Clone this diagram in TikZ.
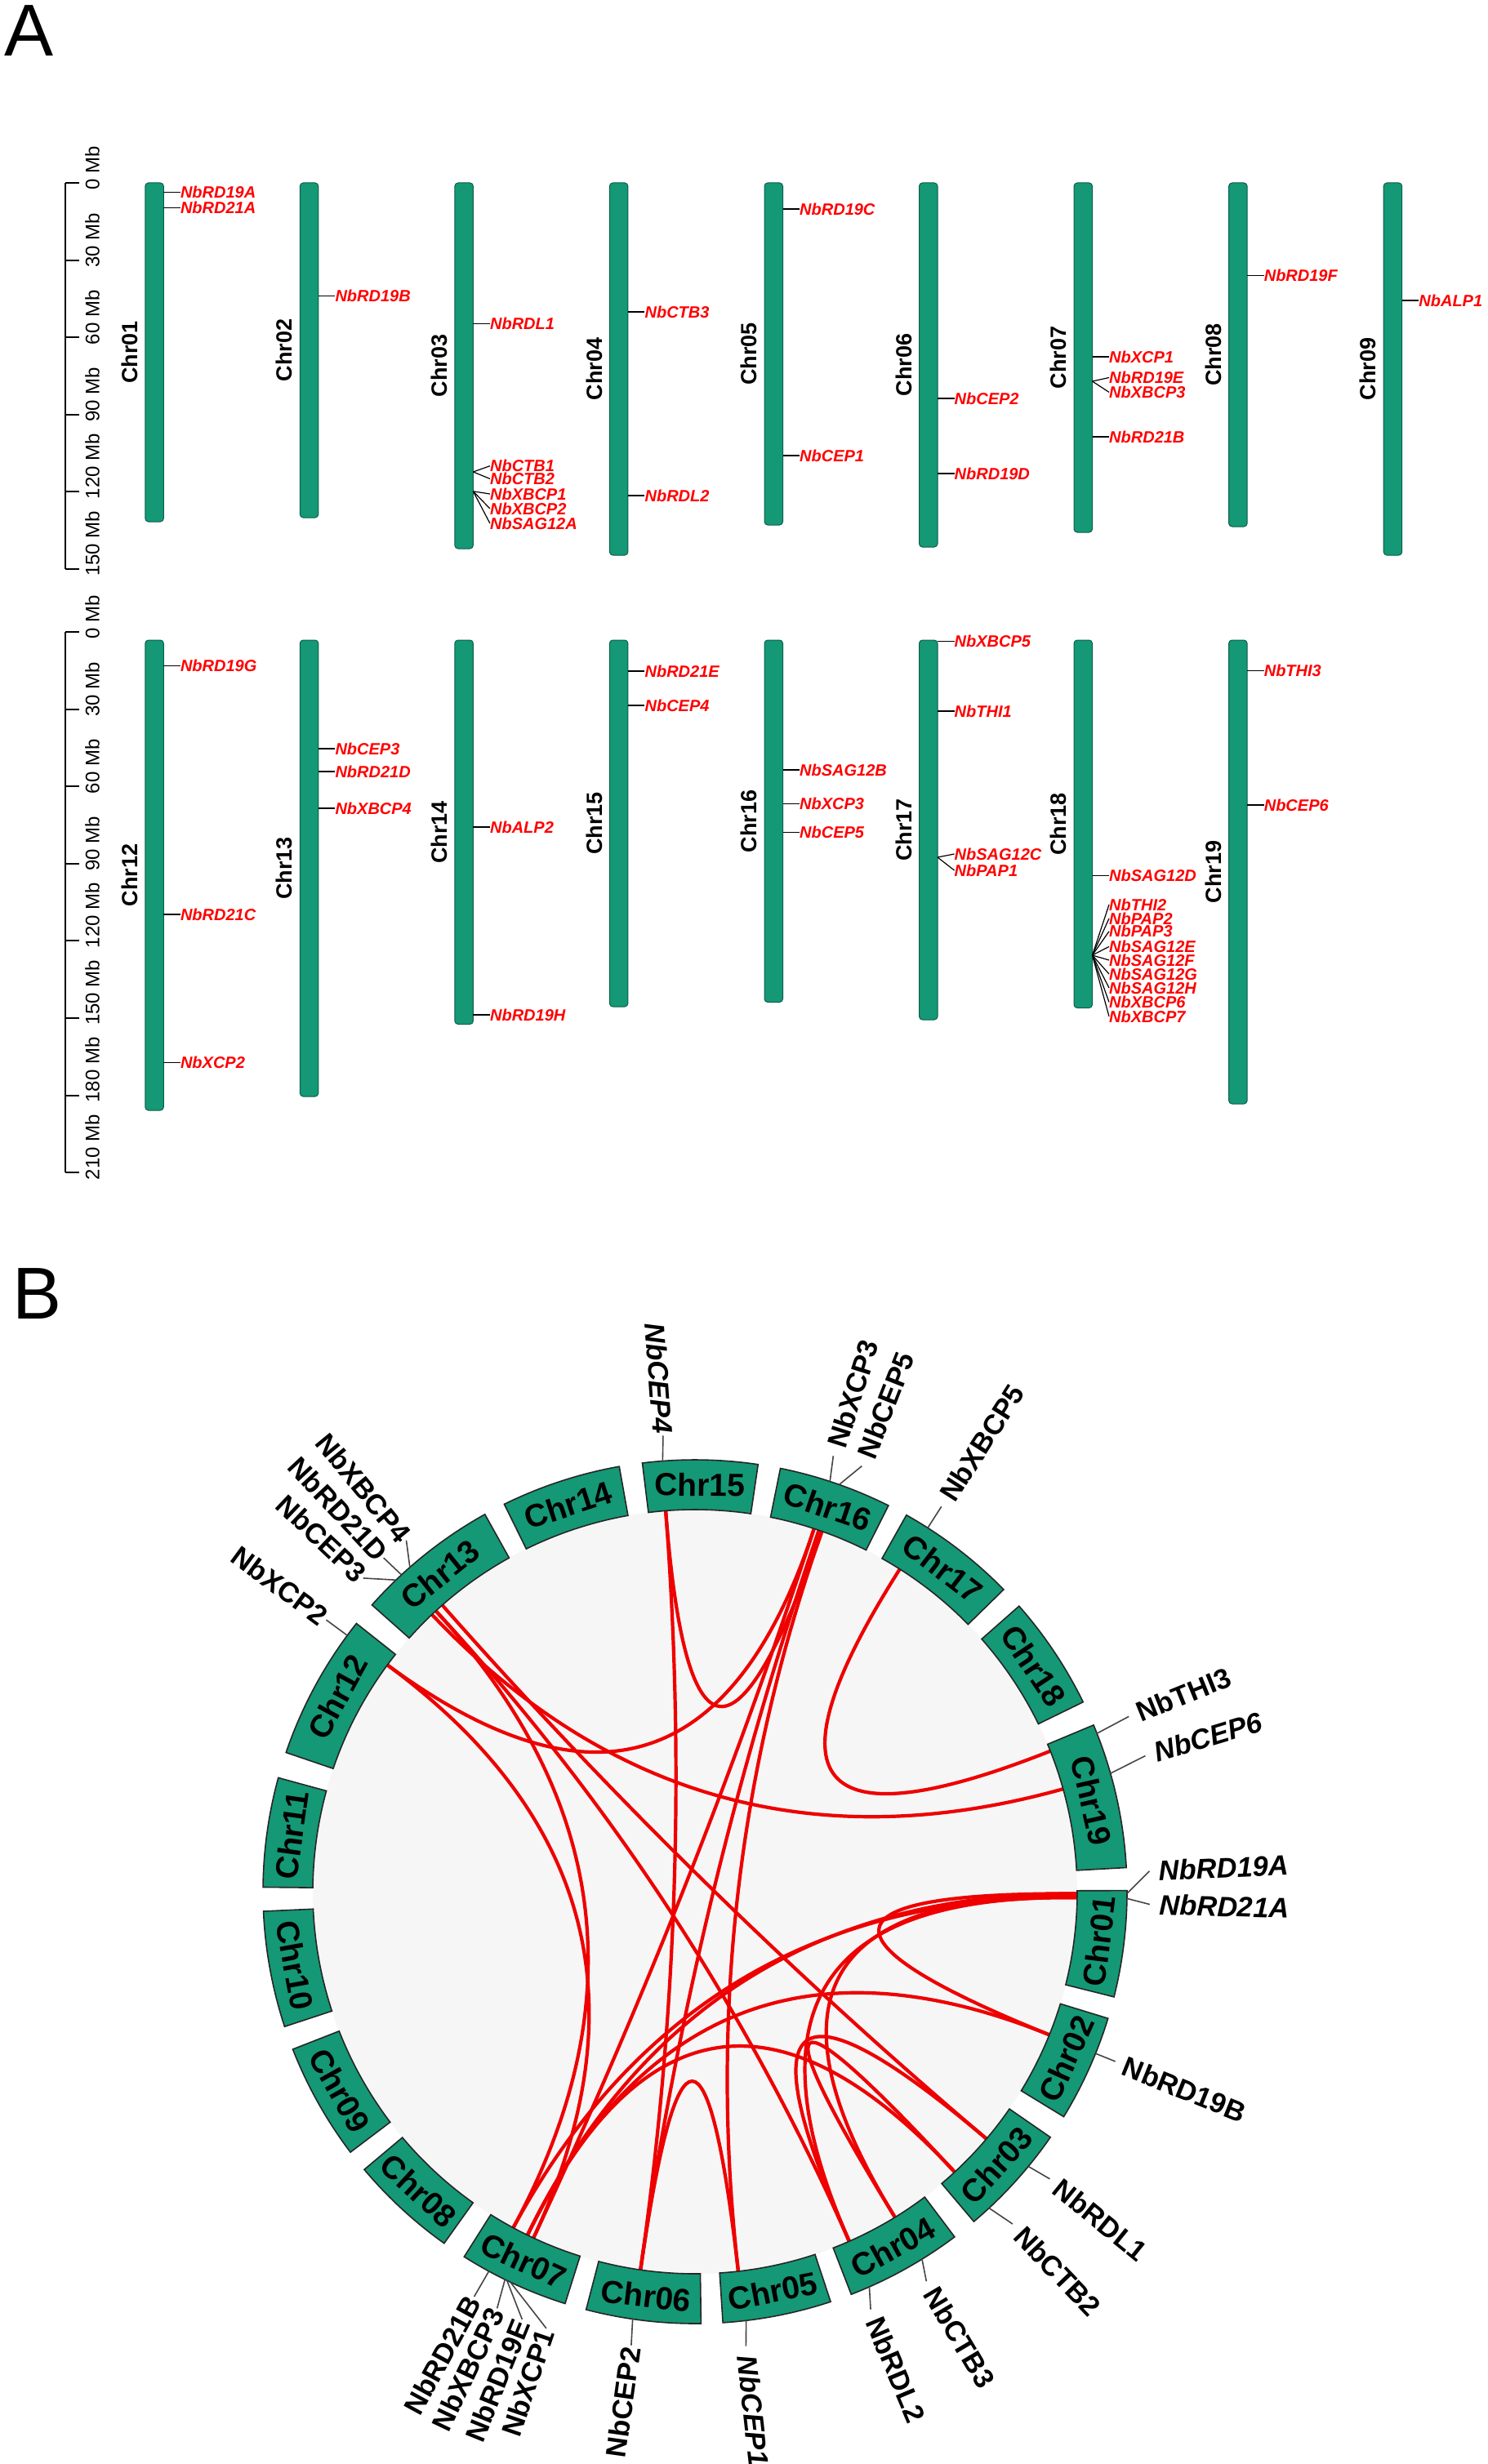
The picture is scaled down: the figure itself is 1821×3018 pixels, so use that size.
\documentclass[tikz,border=0pt]{standalone}
\usepackage{fontspec}
\setmainfont{Liberation Sans}
\definecolor{chrgreen}{RGB}{20,152,118}
\definecolor{chredge}{RGB}{12,95,72}
\definecolor{genered}{RGB}{255,0,0}
\definecolor{linkred}{RGB}{238,0,0}
\definecolor{diskgray}{RGB}{246,246,246}
\definecolor{tickgray}{RGB}{70,70,70}
\tikzset{
 chrA/.style={fill=chrgreen, draw=chredge, line width=1pt, rounded corners=4pt},
 chrlabA/.style={rotate=90, font=\fontsize{27}{27}\selectfont\bfseries, inner sep=0pt},
 axisline/.style={line width=2pt, draw=black},
 axlab/.style={rotate=90, anchor=west, inner sep=0pt, font=\fontsize{24}{24}\selectfont},
 genelab/.style={anchor=west, inner sep=0pt, text=genered, font=\fontsize{20}{20}\selectfont\bfseries\itshape},
 tickA/.style={line width=1.2pt, draw=black},
 chrB/.style={fill=chrgreen, draw=black!85, line width=1.6pt},
 chrlabB/.style={font=\fontsize{39}{39}\selectfont\bfseries, inner sep=0pt},
 linkB/.style={draw=linkred, line width=4.2pt},
 blabel/.style={inner sep=2pt, font=\fontsize{34.5}{34.5}\selectfont\bfseries},
 btick/.style={draw=tickgray, line width=1.6pt},
 panel/.style={anchor=north west, inner sep=0pt, font=\fontsize{90}{90}\selectfont},
}
\newcommand\gnlab[7]{%
  \coordinate (p#1) at (#2:529);
  \node[blabel, rotate=#4, anchor=#5] (n#1) at (#3:#7) {#6 #1};
  \draw[btick] (p#1) -- (n#1.#5);
}
\begin{document}
\begin{tikzpicture}[x=1pt,y=-1pt]
\fill[white] (0,0) rectangle (1821,3018);
\useasboundingbox (0,0) rectangle (1821,3018);

% panel letters
\node[panel] (lblA) at (5,6) {A};
\node[panel] (lblB) at (15,1553) {B};

% ---------- Panel A : axes ----------
\draw[axisline] (80,224) -- (80,697);
\foreach \v [count=\i from 0] in {0,30,60,90,120,150} {
  \draw[axisline] (80,224+\i*94.6) -- (97,224+\i*94.6);
  \node[axlab] (ax1\i) at (113,224+\i*94.6+9) {\v\ Mb};
}
\draw[axisline] (80,774) -- (80,1436.2);
\foreach \v [count=\i from 0] in {0,30,60,90,120,150,180,210} {
  \draw[axisline] (80,774+\i*94.6) -- (97,774+\i*94.6);
  \node[axlab] (ax2\i) at (113,774+\i*94.6+9) {\v\ Mb};
}

% ---------- Panel A : chromosomes ----------
\foreach \x/\t/\b/\n in {177.8/224/639/01, 367.3/224/634/02, 556.9/224/672/03,
  746.4/224/680/04, 936.0/224/643/05, 1125.5/224/670/06, 1315.0/224/652/07,
  1504.6/224/645/08, 1694.2/224/680/09,
  177.8/784/1360/12, 367.3/784/1343/13, 556.9/784/1254.5/14, 746.4/784/1233/15,
  936.0/784/1227.5/16, 1125.5/784/1249/17, 1315.0/784/1234.5/18, 1504.6/784/1352/19} {
  \draw[chrA] (\x,\t) rectangle (\x+22.5,\b);
  \node[chrlabA] (LA\n) at (\x-19,{(\t+\b)/2}) {Chr\n};
}

% ---------- Panel A : genes ----------
\foreach \x/\yb/\yl/\nm in {
  177.8/235.7/235.7/NbRD19A, 177.8/254.3/254.3/NbRD21A,
  367.3/362.5/362.5/NbRD19B,
  556.9/396.8/396.8/NbRDL1, 556.9/578/570.7/NbCTB1, 556.9/578/586.4/NbCTB2,
  556.9/601.8/605/NbXBCP1, 556.9/601.8/623/NbXBCP2, 556.9/601.8/641/NbSAG12A,
  746.4/382/382/NbCTB3, 746.4/607/607/NbRDL2,
  936.0/256/256/NbRD19C, 936.0/558/558/NbCEP1,
  1125.5/488/488/NbCEP2, 1125.5/580/580/NbRD19D,
  1315.0/437/437/NbXCP1, 1315.0/467/462.5/NbRD19E, 1315.0/467/480.4/NbXBCP3, 1315.0/535/535/NbRD21B,
  1504.6/337.5/337.5/NbRD19F,
  1694.2/368/368/NbALP1,
  177.8/815.6/815.6/NbRD19G, 177.8/1120/1120/NbRD21C, 177.8/1301.5/1301.5/NbXCP2,
  367.3/917/917/NbCEP3, 367.3/945/945/NbRD21D, 367.3/990/990/NbXBCP4,
  556.9/1013/1013/NbALP2, 556.9/1243/1243/NbRD19H,
  746.4/822/822/NbRD21E, 746.4/864/864/NbCEP4,
  936.0/943/943/NbSAG12B, 936.0/984.6/984.6/NbXCP3, 936.0/1019.8/1019.8/NbCEP5,
  1125.5/785.6/785.6/NbXBCP5, 1125.5/871/871/NbTHI1, 1125.5/1050/1046/NbSAG12C, 1125.5/1050/1066/NbPAP1,
  1315.0/1072.6/1072.6/NbSAG12D,
  1315.0/1170/1108/NbTHI2, 1315.0/1170/1125/NbPAP2, 1315.0/1170/1140.7/NbPAP3,
  1315.0/1170/1159.4/NbSAG12E, 1315.0/1170/1176/NbSAG12F, 1315.0/1170/1193/NbSAG12G,
  1315.0/1170/1210/NbSAG12H, 1315.0/1170/1227.5/NbXBCP6, 1315.0/1170/1245/NbXBCP7,
  1504.6/821.4/821.4/NbTHI3, 1504.6/986/986/NbCEP6} {
  \coordinate (a\nm) at (\x+22.5,\yb);
  \node[genelab] (t\nm) at (\x+43,\yl) {\nm};
  \draw[tickA] (a\nm) -- (t\nm.west);
}

% ---------- Panel B : circos ----------
\begin{scope}[shift={(851,2317)}, x=1pt, y=1pt]
  \fill[diskgray] (0,0) circle[radius=468];
  % links
  \foreach \a/\b in {94.4/-98.2, 94.4/70.6, 70.6/-83.5, 71.1/-98.2, -83.5/-98.2,
     133.5/15.6, 57.6/21.6, 143.6/71.85, 143.6/-115.0, 71.85/-115.0,
     132.7/-118.4, 131.4/-40.3, 132.7/-66.2, -40.3/-66.2, -47.2/-58.45,
     -0.3/-22.0, -0.6/-58.45, -0.9/-66.2, -0.3/-116.0, -0.9/-118.4,
     -116.0/-22.0, -116.0/-47.2} {
    \draw[linkB] (\a:468) .. controls (\a:156) and (\b:156) .. (\b:468);
  }
  % chromosome boxes
  \foreach \n/\s/\e/\ro in {01/0.15/-14.1/83.0, 02/-17.06/-31.4/65.8,
     03/-34.65/-49.8/47.8, 04/-53.06/-68.8/29.1, 05/-71.7/-86.3/11.0,
     06/-89.2/-104.6/-6.9, 07/-107.5/-122.3/-24.9, 08/-125.5/-139.96/-42.7,
     09/-142.9/-158.6/-60.75, 10/-161.8/-177.4/-79.6, 11/-180.6/-195.3/82.05,
     12/-198.8/-218.4/61.4, 13/-221.6/-240.9/38.75, 14/-243.8/-259.9/18.15,
     15/-263.0/-278.4/-0.7, 16/-281.4/-296.6/-19.0, 17/-299.3/-315.6/-37.45,
     18/-318.6/-333.95/-56.3, 19/-337.3/-356.8/-77.05} {
    \draw[chrB] (\s:468) arc[start angle=\s, end angle=\e, radius=468]
       -- (\e:529) arc[start angle=\e, end angle=\s, radius=529] -- cycle;
    \node[chrlabB, rotate=\ro] (B\n) at ({(\s+\e)/2}:498.5) {Chr\n};
  }
  % gene labels
  \gnlab{NbCEP4}{94.3}{94.0}{-86}{east}{\itshape}{560}
  \gnlab{NbXCP3}{71.8}{72.4}{72.4}{west}{\upshape}{560}
  \gnlab{NbCEP5}{70.5}{68.6}{68.6}{west}{\upshape}{560}
  \gnlab{NbXBCP5}{57.4}{57.4}{57.4}{west}{\upshape}{560}
  \gnlab{NbTHI3}{21.5}{22.0}{22.0}{west}{\upshape}{573}
  \gnlab{NbCEP6}{15.9}{16.8}{16.8}{west}{\itshape}{576}
  \gnlab{NbRD19A}{-0.25}{2.6}{2.6}{west}{\itshape}{557}
  \gnlab{NbRD21A}{-0.9}{-1.6}{-1.6}{west}{\itshape}{557}
  \gnlab{NbRD19B}{-22}{-22}{-22}{west}{\upshape}{555}
  \gnlab{NbRDL1}{-39.5}{-39}{-39}{west}{\upshape}{559}
  \gnlab{NbCTB2}{-47.1}{-46.3}{-46.3}{west}{\upshape}{563}
  \gnlab{NbCTB3}{-58.3}{-59.3}{-59.3}{west}{\upshape}{555}
  \gnlab{NbRDL2}{-66.2}{-67.2}{-67.2}{west}{\upshape}{555}
  \gnlab{NbCEP1}{-83.2}{-83.6}{-83.6}{west}{\itshape}{560}
  \gnlab{NbCEP2}{-98.3}{-98.0}{82}{east}{\upshape}{561}
  \gnlab{NbRD21B}{-118.5}{-118.6}{61.4}{east}{\upshape}{565}
  \gnlab{NbXBCP3}{-116.1}{-115.4}{64.6}{east}{\upshape}{565}
  \gnlab{NbRD19E}{-115.8}{-112.0}{68}{east}{\upshape}{565}
  \gnlab{NbXCP1}{-115.3}{-108.8}{71.2}{east}{\upshape}{565}
  \gnlab{NbXCP2}{143.6}{143.6}{-36.4}{east}{\upshape}{561}
  \gnlab{NbCEP3}{133.8}{136.6}{-43.4}{east}{\upshape}{559}
  \gnlab{NbRD21D}{132.8}{133.0}{-47}{east}{\upshape}{559}
  \gnlab{NbXBCP4}{131.3}{129.4}{-50.6}{east}{\upshape}{557}
\end{scope}
\end{tikzpicture}
\end{document}
